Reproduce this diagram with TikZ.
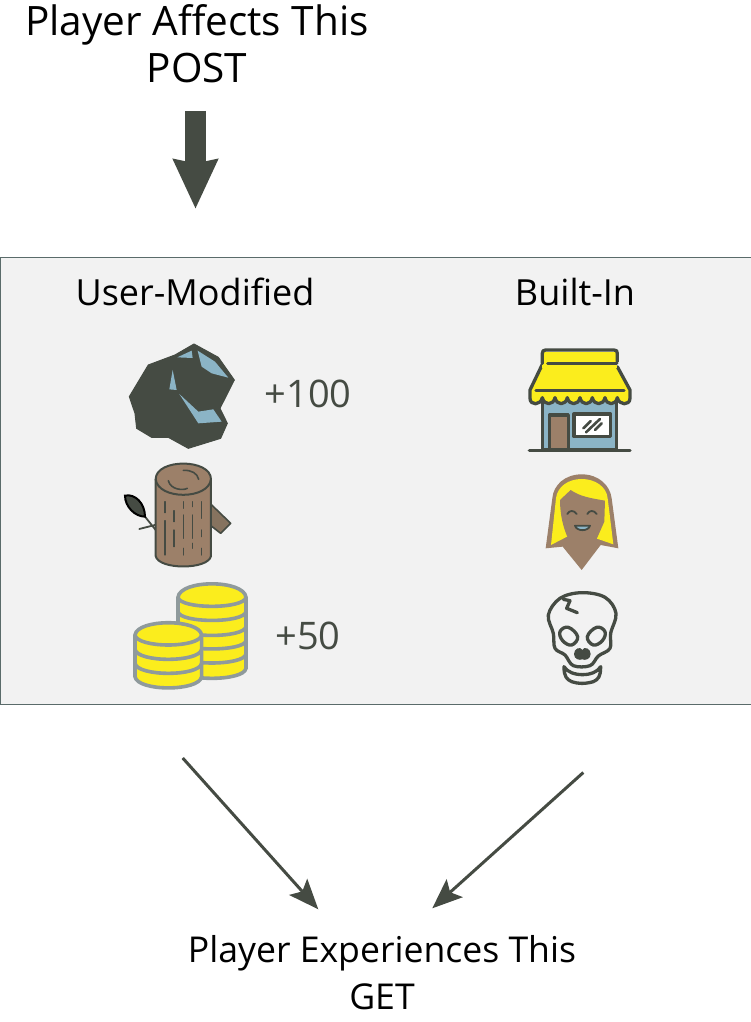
\documentclass[tikz,border=0pt]{standalone}
\usepackage{fontspec}
\setmainfont{Open Sans}
\usetikzlibrary{positioning,arrows.meta}
\definecolor{slate}{HTML}{454B43}
\definecolor{steel}{HTML}{8BB4C6}
\definecolor{bark}{HTML}{9C8069}
\definecolor{sun}{HTML}{FBED1D}
\definecolor{rim}{HTML}{8F9A9C}
\definecolor{panelgrey}{HTML}{F2F2F2}
\tikzset{
  caption/.style={align=center,inner sep=0pt,font=\fontsize{35.6}{47}\selectfont},
  coltitle/.style={inner sep=0pt,font=\fontsize{36}{40}\selectfont},
  gain/.style={inner sep=0pt,text=slate,font=\fontsize{38}{40}\selectfont},
  panel/.style={draw=slate!70!steel,fill=panelgrey,line width=1pt,minimum width=751pt,minimum height=447pt,inner sep=0pt},
  bigarrow/.style={draw=slate,line width=20.5pt,-{Stealth[length=49pt,width=43pt,inset=3.5pt]}},
  thinarrow/.style={draw=slate,line width=3pt,-{Stealth[length=30pt,width=24pt,inset=6pt]}},
  ink/.style={draw=slate,line width=3.3pt,line join=round,line cap=round},
  coin/.style={draw=rim,fill=sun,line width=3.6pt},
  icon/.style={x=0.3333pt,y=-0.3333pt},
}
\begin{document}
\begin{tikzpicture}[x=1pt,y=-1pt]
  \useasboundingbox (0,0) rectangle (751,1022);
  \node[caption,font=\fontsize{40.5}{47}\selectfont] (post) at (197,44) {Player Affects This\\POST};
  \node[panel] (board) at (375.5,480.5) {};
  \node[coltitle] (usermod) at (195,292) {User-Modified};
  \node[coltitle,right=380pt of usermod.center,anchor=center] (builtin) {Built-In};
  \node[gain] (gainrock) at (308,394) {+100};
  \node[gain] (gaincoin) at (308,636) {+50};
  \node[caption] (get) at (382,973) {Player Experiences This\\GET};
  \coordinate (posttail) at (195.5,111);
  \coordinate (posttip) at (195.5,209);
  \coordinate (usertail) at (182.7,758);
  \coordinate (usertip) at (318.3,909.3);
  \coordinate (builttail) at (583.3,772.5);
  \coordinate (builttip) at (432.3,908.3);
  \draw[bigarrow] (posttail) -- (posttip);
  \draw[thinarrow] (usertail) -- (usertip);
  \draw[thinarrow] (builttail) -- (builttip);
  % rock
  \begin{scope}[shift={(100,330)},icon]
    \fill[slate,draw=slate,line width=1pt,line join=round] (282,42) -- (355,82) -- (403,150) -- (360,235) -- (382,280) -- (362,325) -- (265,355) -- (205,322) -- (155,322) -- (110,295) -- (105,250) -- (88,200) -- (145,105) -- (225,75) -- cycle;
    \fill[steel] (232,82) -- (275,62) -- (278,84) -- cycle;
    \fill[steel] (293,62) -- (345,95) -- (385,143) -- (335,130) -- (305,110) -- cycle;
    \fill[steel] (218,120) -- (230,180) -- (208,178) -- cycle;
    \fill[steel] (238,192) -- (295,245) -- (340,238) -- (365,275) -- (295,280) -- cycle;
  \end{scope}
  % log
  \begin{scope}[shift={(100,330)},icon]
    \draw[ink,fill=bark!75!slate,line width=1.6pt] (330,520) -- (392,580) -- (362,610) -- (330,585) -- cycle;
    \draw[ink,line width=1.8pt] (135,560) -- (167,600) (118,597) -- (165,585);
    \draw[draw=black,fill=slate,line width=2pt] (75,497) .. controls (105,490) and (135,520) .. (135,560) .. controls (105,560) and (75,530) .. (75,497) -- cycle;
    \draw[ink,fill=bark,line width=2pt] (167,448) -- (167,678) .. controls (175,720) and (325,720) .. (333,678) -- (333,448) .. controls (333,385) and (167,385) .. (167,448) -- cycle;
    \draw[ink,line width=2pt] (167,448) .. controls (175,510) and (325,510) .. (333,448);
    \draw[ink,line width=1.6pt] (205,452) .. controls (212,480) and (250,482) .. (262,475) (250,421) .. controls (275,420) and (292,430) .. (296,448);
    \draw[ink,line width=1.3pt] (195,515) -- (195,548) (222,542) -- (222,575) (250,515) -- (250,535) (277,515) -- (277,530) (305,515) -- (305,565)
      (195,572) -- (195,675) (222,600) -- (222,650) (250,555) -- (250,625) (277,555) -- (277,625) (305,600) -- (305,620) (250,655) -- (250,675) (277,640) -- (277,655) (305,655) -- (305,675);
  \end{scope}
  % coins
  \begin{scope}[shift={(100,570)},icon]
    \draw[coin] (234,82) -- (234,295) .. controls (240,335) and (432,335) .. (438,295) -- (438,82) .. controls (432,28) and (240,28) .. (234,82) -- cycle;
    \draw[coin,fill=none] (234,82) .. controls (240,118) and (432,118) .. (438,82);
    \draw[coin,fill=none] (234,125) .. controls (240,160) and (432,160) .. (438,125);
    \draw[coin,fill=none] (234,170) .. controls (240,205) and (432,205) .. (438,170);
    \draw[coin,fill=none] (234,212) .. controls (240,245) and (432,245) .. (438,212);
    \draw[coin,fill=none] (234,252) .. controls (240,288) and (432,288) .. (438,252);
    \draw[coin] (105,195) -- (105,320) .. controls (112,365) and (298,365) .. (305,320) -- (305,195) .. controls (298,146) and (112,146) .. (105,195) -- cycle;
    \draw[coin,fill=none] (105,195) .. controls (112,235) and (298,235) .. (305,195);
    \draw[coin,fill=none] (105,238) .. controls (112,278) and (298,278) .. (305,238);
    \draw[coin,fill=none] (105,280) .. controls (112,320) and (298,320) .. (305,280);
  \end{scope}
  % shop
  \begin{scope}[shift={(510,335)},icon]
    \draw[ink,fill=steel] (97,190) rectangle (320,345);
    \draw[ink,fill=bark] (118,240) rectangle (175,345);
    \draw[ink,fill=white] (192,237) rectangle (302,305);
    \draw[ink,line width=2.6pt] (220,280) -- (242,258) (228,292) -- (270,252) (255,285) -- (275,265);
    \draw[ink] (58,347) -- (360,347);
    \draw[ink,fill=sun] (97,88) -- (60,165) -- (60,190) .. controls (60,212) and (92,212) .. (97,188) .. controls (102,212) and (130,212) .. (135,188) .. controls (140,212) and (167,212) .. (172,188) .. controls (177,212) and (205,212) .. (210,188) .. controls (215,212) and (242,212) .. (247,188) .. controls (252,212) and (280,212) .. (285,188) .. controls (290,212) and (317,212) .. (322,188) .. controls (327,212) and (360,212) .. (360,190) -- (360,165) -- (322,95);
    \fill[sun] (97,50) rectangle (322,100);
    \draw[ink] (97,85) -- (97,55) .. controls (97,48) and (100,45) .. (107,45) -- (312,45) .. controls (319,45) and (322,48) .. (322,55) -- (322,80);
    \draw[ink] (113,85) -- (320,85) (78,167) -- (342,167);
  \end{scope}
  % woman
  \begin{scope}[shift={(510,335)},icon]
    \fill[bark] (215,418) .. controls (265,418) and (300,450) .. (305,490) -- (325,640) -- (272,630) -- (215,705) -- (158,635) -- (107,640) -- (127,490) .. controls (130,450) and (165,418) .. (215,418) -- cycle;
    \fill[sun] (215,432) .. controls (255,432) and (290,455) .. (293,490) -- (310,628) -- (258,610) -- (175,603) -- (123,630) -- (138,490) .. controls (142,455) and (175,432) .. (215,432) -- cycle;
    \fill[bark] (150,495) -- (182,465) .. controls (210,485) and (245,490) .. (285,497) -- (283,560) -- (260,612) -- (175,612) .. controls (160,580) and (150,540) .. (150,495) -- cycle;
    \draw[ink,line width=1.8pt] (172,537) .. controls (178,525) and (192,525) .. (200,537) (232,537) .. controls (238,525) and (252,525) .. (260,537);
    \draw[ink,fill=steel,line width=1.8pt] (195,572) -- (240,572) .. controls (235,590) and (200,590) .. (195,572) -- cycle;
  \end{scope}
  % skull
  \begin{scope}[shift={(510,570)},icon]
    \draw[ink] plot[smooth cycle,tension=0.6] coordinates {(215,68) (285,82) (318,130) (302,190) (300,235) (265,258) (240,287) (190,287) (165,255) (135,235) (130,190) (115,135) (150,85)};
    \draw[ink] (160,88) -- (180,92) -- (170,115) -- (202,128);
    \draw[ink] plot[smooth cycle,tension=0.7] coordinates {(150,185) (175,172) (203,200) (185,225) (158,212)};
    \draw[ink] plot[smooth cycle,tension=0.7] coordinates {(285,185) (260,172) (232,200) (250,225) (277,212)};
    \fill[slate] (217,240) .. controls (222,228) and (242,235) .. (242,252) .. controls (242,268) and (225,272) .. (217,268) .. controls (209,272) and (192,268) .. (192,252) .. controls (192,235) and (212,228) .. (217,240) -- cycle;
    \draw[ink] (162,290) .. controls (180,322) and (255,322) .. (272,290) .. controls (272,320) and (265,328) .. (250,335) .. controls (225,342) and (205,342) .. (185,335) .. controls (170,328) and (162,320) .. (162,290) -- cycle;
  \end{scope}
\end{tikzpicture}
\end{document}
